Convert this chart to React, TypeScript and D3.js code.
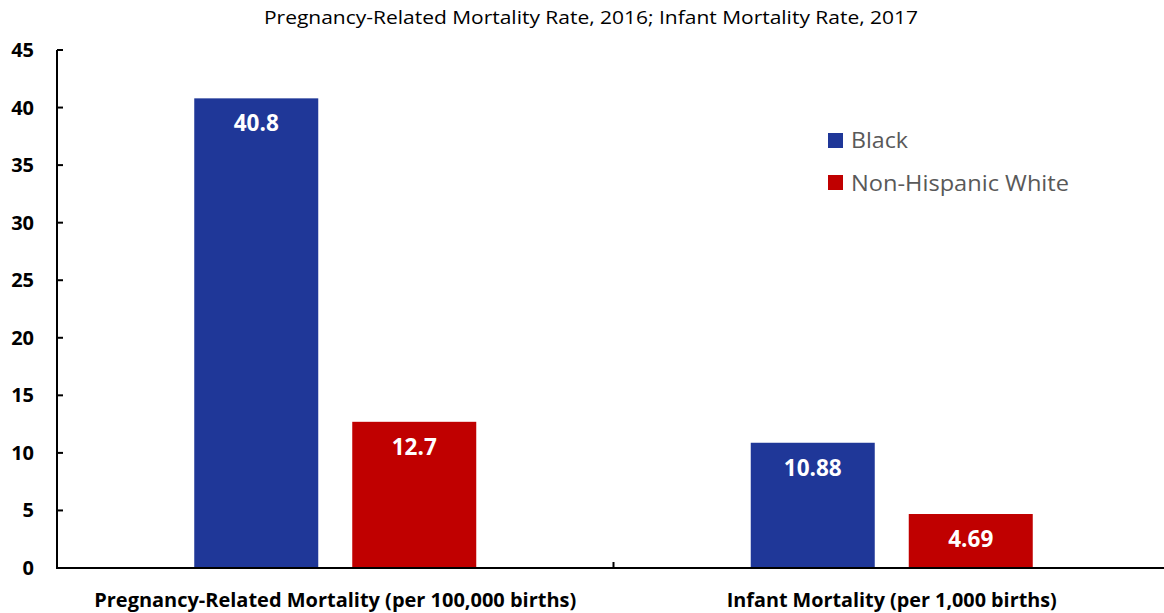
import React from "react";
import * as d3 from "d3";

const categories = ["Pregnancy-Related Mortality (per 100,000 births)", "Infant Mortality (per 1,000 births)"];
const categoryLabelWidths = [482, 330];
const seriesNames = ["Black", "Non-Hispanic White"];
const legendWidths = [57, 218];
const blackValues = [40.8, 10.88];
const whiteValues = [12.7, 4.69];
const valueLabels = [["40.8", "12.7"], ["10.88", "4.69"]];
const yTicks = [0, 5, 10, 15, 20, 25, 30, 35, 40, 45];
const colors = ["#1F3798", "#C00000"];
const title = "Pregnancy-Related Mortality Rate, 2016; Infant Mortality Rate, 2017";

export default function App() {
  const W = 1164, H = 613;
  const left = 57, right = 1170, top = 50, bottom = 568;
  const x = d3.scaleBand<string>().domain(categories).range([left, right]);
  const y = d3.scaleLinear().domain([0, 45]).range([bottom, top]);
  const barW = 124, gap = 34;
  const font = "'Open Sans', sans-serif";
  const data = categories.map((c, i) => [blackValues[i], whiteValues[i]]);
  return (
    <div style={{ position: "absolute", left: 0, top: 0 }}>
      <svg width={W} height={H} style={{ display: "block", background: "#fff" }} fontFamily={font}>
        <text x={591} y={24} textAnchor="middle" fontSize={18} fill="#000" textLength={654} lengthAdjust="spacingAndGlyphs">{title}</text>
        {categories.map((c, i) => {
          const cx = x(c)! + x.bandwidth() / 2;
          return data[i].map((v, j) => {
            const bx = cx - gap / 2 - barW + j * (barW + gap);
            return (
              <g key={c + j}>
                <rect x={bx} y={y(v)} width={barW} height={bottom - y(v)} fill={colors[j]} />
                <text x={bx + barW / 2} y={y(v) + 33} textAnchor="middle" fontSize={22.5} fontWeight="bold" fill="#fff">{valueLabels[i][j]}</text>
              </g>
            );
          });
        })}
        <line x1={left} x2={left} y1={top} y2={bottom + 1} stroke="#000" strokeWidth={2} />
        <line x1={left - 1} x2={right} y1={bottom} y2={bottom} stroke="#000" strokeWidth={2} />
        {yTicks.map(t => (
          <g key={t}>
            <line x1={left} x2={left + 6} y1={y(t)} y2={y(t)} stroke="#000" strokeWidth={2} />
            <text x={34} y={y(t) + 7} textAnchor="end" fontSize={20} fontWeight="bold" fill="#000">{t}</text>
          </g>
        ))}
        <line x1={x(categories[1])!} x2={x(categories[1])!} y1={bottom} y2={bottom - 6} stroke="#000" strokeWidth={2} />
        {categories.map((c, i) => (
          <text key={c} x={x(c)! + x.bandwidth() / 2} y={607} textAnchor="middle" fontSize={19.5} fontWeight="bold" fill="#000" textLength={categoryLabelWidths[i]} lengthAdjust="spacingAndGlyphs">{c}</text>
        ))}
        {seriesNames.map((s, i) => (
          <g key={s}>
            <rect x={828} y={133 + i * 42} width={15} height={15} fill={colors[i]} />
            <text x={851} y={148 + i * 43} fontSize={21} fill="#595959" textLength={legendWidths[i]} lengthAdjust="spacingAndGlyphs">{s}</text>
          </g>
        ))}
      </svg>
    </div>
  );
}
